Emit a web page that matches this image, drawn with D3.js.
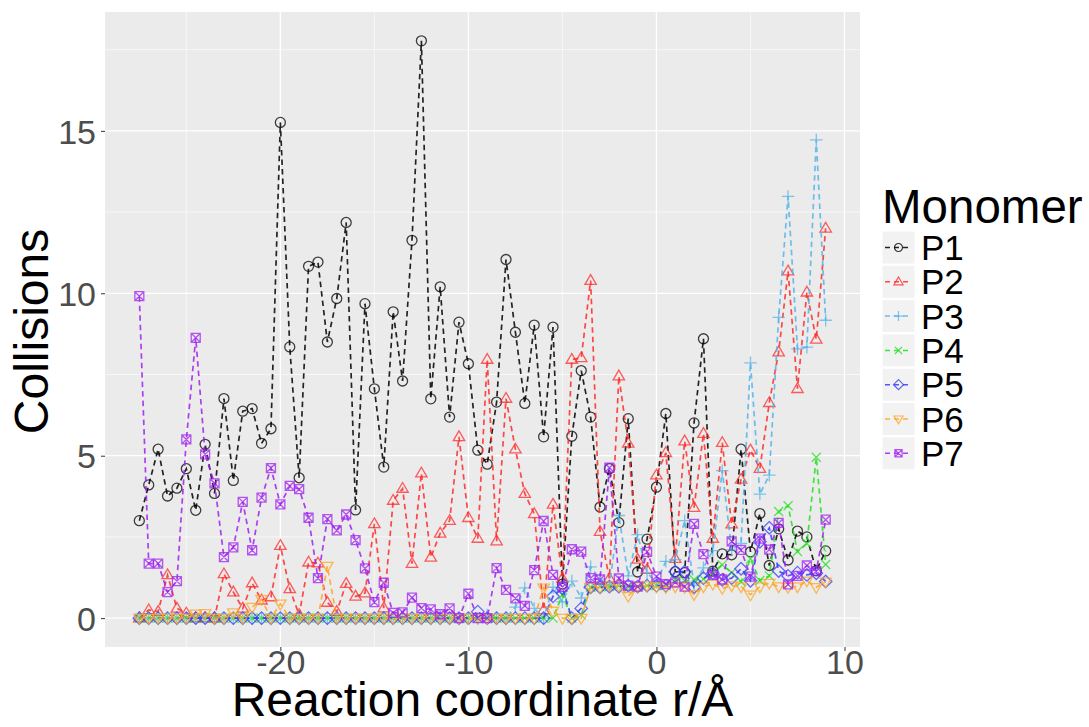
<!DOCTYPE html>
<html>
<head>
<meta charset="utf-8">
<script src="https://cdn.jsdelivr.net/npm/d3@7"></script>
<style>
  body { margin: 0; background: #ffffff; }
  svg { display: block; }
  text { font-family: "Liberation Sans", Arial, Helvetica, sans-serif; }
</style>
</head>
<body>
<svg id="chart" width="1089" height="727"></svg>
<script>
// Reaction coordinate (r / Å) for each sample
const coords = [
  -27.5, -27, -26.5, -26, -25.5, -25, -24.5, -24, -23.5, -23,
  -22.5, -22, -21.5, -21, -20.5, -20, -19.5, -19, -18.5, -18,
  -17.5, -17, -16.5, -16, -15.5, -15, -14.5, -14, -13.5, -13,
  -12.5, -12, -11.5, -11, -10.5, -10, -9.5, -9, -8.5, -8,
  -7.5, -7, -6.5, -6, -5.5, -5, -4.5, -4, -3.5, -3,
  -2.5, -2, -1.5, -1, -0.5, 0, 0.5, 1, 1.5, 2,
  2.5, 3, 3.5, 4, 4.5, 5, 5.5, 6, 6.5, 7,
  7.5, 8, 8.5, 9
];

// Collisions per monomer
const P1 = [
  3.0, 4.1, 5.2, 3.76, 4.0, 4.6, 3.32, 5.35, 3.84, 6.76,
  4.24, 6.37, 6.45, 5.38, 5.83, 15.26, 8.35, 4.32, 10.83, 10.96,
  8.5, 9.84, 12.18, 3.33, 9.68, 7.06, 4.65, 9.43, 7.3, 11.63,
  17.77, 6.75, 10.2, 6.19, 9.11, 7.83, 5.17, 4.74, 6.65, 11.04,
  8.8, 6.61, 9.02, 5.58, 8.96, 1.05, 5.6, 7.62, 6.19, 3.42,
  4.6, 2.94, 6.14, 1.42, 2.43, 4.03, 6.3, 1.43, 1.4, 6.01,
  8.6, 1.45, 1.98, 1.95, 5.2, 2.04, 3.22, 1.62, 2.75, 1.79,
  2.68, 2.5, 1.46, 2.07
];
const P2 = [
  0, 0.25, 0.2, 1.33, 0.3, 0.15, 0, 0, 0, 1.36,
  0.8, 0.3, 1.08, 0.55, 0.65, 2.23, 0.9, 0.1, 1.72, 1.69,
  0.48, 0.2, 1.06, 0.67, 0.77, 2.9, 0.31, 3.62, 3.99, 1.68,
  4.46, 1.87, 2.61, 3.0, 5.58, 3.09, 2.45, 7.96, 2.37, 6.76,
  5.2, 3.83, 3.21, 0.25, 3.5, 1.22, 7.96, 8.01, 10.39, 2.66,
  1.22, 7.45, 5.38, 1.81, 1.49, 4.4, 5.09, 1.83, 5.45, 3.4,
  5.68, 2.45, 5.4, 2.89, 4.27, 5.17, 4.6, 6.63, 8.19, 10.68,
  7.06, 10.03, 8.58, 12.0
];
const P3 = [
  0, 0, 0, 0, 0, 0, 0, 0, 0, 0,
  0, 0, 0, 0, 0, 0, 0, 0, 0, 0,
  0, 0, 0, 0, 0, 0, 0, 0, 0, 0,
  0, 0, 0, 0, 0, 0, 0, 0.1, 0, 0,
  0.34, 0.93, 0.3, 0, 0.95, 0.5, 1.14, 0.62, 1.58, 1.2,
  1.0, 3.16, 1.3, 2.57, 1.4, 1.1, 1.75, 1.8, 3.0, 1.01,
  1.55, 2.08, 4.54, 2.1, 2.3, 7.86, 3.82, 4.4, 9.26, 12.98,
  8.29, 8.34, 14.72, 9.17
];
const P4 = [
  0, 0, 0, 0, 0, 0, 0, 0, 0, 0,
  0, 0, 0, 0, 0, 0, 0, 0, 0, 0,
  0, 0, 0, 0, 0, 0, 0, 0, 0, 0,
  0, 0, 0, 0, 0, 0, 0, 0, 0, 0,
  0, 0, 0, 0, 0, 0.72, 0, 0.1, 0.95, 0.97,
  0.97, 1.0, 0.95, 0.97, 1.0, 1.0, 1.0, 1.18, 1.15, 1.18,
  1.2, 1.4, 1.64, 1.4, 1.12, 1.82, 1.16, 1.3, 3.28, 3.46,
  2.05, 2.3, 4.95, 1.65
];
const P5 = [
  0, 0, 0, 0, 0, 0, 0, 0, 0, 0,
  0, 0, 0, 0, 0, 0, 0, 0, 0, 0,
  0, 0, 0, 0, 0, 0, 0, 0, 0, 0,
  0, 0, 0, 0, 0, 0, 0.2, 0, 0, 0,
  0, 0, 0, 0, 0.67, 0.92, 0, 0.3, 0.95, 0.95,
  0.97, 0.97, 1.0, 0.97, 1.0, 1.0, 1.0, 1.43, 1.43, 0.95,
  1.23, 1.38, 1.18, 1.23, 1.52, 1.15, 2.35, 2.78, 1.45, 1.3,
  1.4, 1.33, 1.38, 1.13
];
const P6 = [
  0, 0, 0, 0, 0, 0, 0.13, 0.15, 0, 0,
  0.17, 0, 0.34, 0.58, 0, 0.44, 0, 0, 0, 0,
  1.6, 0, 0, 0, 0, 0, 0, 0, 0, 0,
  0, 0, 0, 0, 0, 0, 0, 0, 0, 0,
  0, 0, 0, 0.93, 0.22, 0, 0, 0, 0.95, 0.95,
  1.0, 1.0, 0.68, 0.97, 1.0, 0.97, 0.95, 0.97, 0.95, 0.73,
  0.97, 1.05, 0.92, 1.0, 0.97, 0.72, 0.97, 1.08, 0.97, 0.95,
  0.97, 1.15, 0.95, 1.12
];
const P7 = [
  9.91, 1.68, 1.68, 0.8, 1.14, 5.5, 8.63, 5.04, 4.15, 1.88,
  2.18, 3.58, 2.09, 3.71, 4.62, 3.5, 4.07, 3.97, 3.09, 1.23,
  3.05, 2.7, 3.19, 2.4, 1.53, 0.49, 1.09, 0.16, 0.18, 0.63,
  0.31, 0.27, 0.12, 0.3, 0, 0.75, 0, 0, 1.54, 0.87,
  0.61, 0.38, 1.48, 2.99, 1.33, 0.96, 2.12, 2.05, 1.23, 1.19,
  4.63, 1.22, 1.0, 0.97, 2.04, 1.28, 1.05, 1.1, 0.97, 2.9,
  1.97, 1.33, 1.19, 2.36, 2.1, 1.28, 2.45, 2.11, 2.93, 1.04,
  1.3, 1.62, 1.45, 3.03
];

const seriesNames = ["P1", "P2", "P3", "P4", "P5", "P6", "P7"];
const seriesValues = [P1, P2, P3, P4, P5, P6, P7];
const seriesColors = ["#000000", "#ff2a2a", "#56b4e9", "#22e022", "#3a3aff", "#ffa522", "#a020f0"];
const seriesShapes = ["circle", "triangle", "plus", "cross", "diamond", "triangleDown", "squareCross"];

const xTicks = [-20, -10, 0, 10];
const xMinor = [-25, -15, -5, 5];
const yTicks = [0, 5, 10, 15];
const yMinor = [2.5, 7.5, 12.5, 17.5];

const xTitle = "Reaction coordinate r/Å";
const yTitle = "Collisions";
const legendTitle = "Monomer";

// ---- layout ----
const panel = { left: 105, right: 860, top: 12, bottom: 647 };
const svg = d3.select("#chart");

// ggplot-style 5% expansion of the data range
function expand(ext) {
  const pad = (ext[1] - ext[0]) * 0.05;
  return [ext[0] - pad, ext[1] + pad];
}
const allValues = seriesValues.flat();
const x = d3.scaleLinear().domain(expand(d3.extent(coords))).range([panel.left, panel.right]);
const y = d3.scaleLinear().domain(expand(d3.extent(allValues))).range([panel.bottom, panel.top]);

// panel background
svg.append("rect")
  .attr("x", panel.left).attr("y", panel.top)
  .attr("width", panel.right - panel.left).attr("height", panel.bottom - panel.top)
  .attr("fill", "#ebebeb");

// grid lines
const grid = svg.append("g").attr("stroke", "#ffffff").attr("fill", "none");
grid.selectAll("line.xmin").data(xMinor).join("line")
  .attr("x1", d => x(d)).attr("x2", d => x(d)).attr("y1", panel.top).attr("y2", panel.bottom)
  .attr("stroke-width", 0.6);
grid.selectAll("line.ymin").data(yMinor).join("line")
  .attr("y1", d => y(d)).attr("y2", d => y(d)).attr("x1", panel.left).attr("x2", panel.right)
  .attr("stroke-width", 0.6);
grid.selectAll("line.xmaj").data(xTicks).join("line")
  .attr("x1", d => x(d)).attr("x2", d => x(d)).attr("y1", panel.top).attr("y2", panel.bottom)
  .attr("stroke-width", 1.3);
grid.selectAll("line.ymaj").data(yTicks).join("line")
  .attr("y1", d => y(d)).attr("y2", d => y(d)).attr("x1", panel.left).attr("x2", panel.right)
  .attr("stroke-width", 1.3);

// axes (plain hyphen for negative numbers)
const fmt = d => String(d);
const xAxis = d3.axisBottom(x).tickValues(xTicks).tickFormat(fmt).tickSize(4).tickPadding(-1);
const yAxis = d3.axisLeft(y).tickValues(yTicks).tickFormat(fmt).tickSize(4).tickPadding(5);

const gx = svg.append("g").attr("transform", `translate(0,${panel.bottom})`).call(xAxis);
const gy = svg.append("g").attr("transform", `translate(${panel.left},0)`).call(yAxis);
[gx, gy].forEach(g => {
  g.select(".domain").remove();
  g.selectAll(".tick line").attr("stroke", "#333333").attr("stroke-width", 1);
  g.selectAll(".tick text")
    .attr("fill", "#4d4d4d")
    .style("font-family", '"Liberation Sans", Arial, sans-serif')
    .style("font-size", "34px");
});
gy.selectAll(".tick text").attr("dy", "0.36em");
gx.selectAll(".tick text").attr("dy", "0.72em");

// axis titles
svg.append("text")
  .attr("x", (panel.left + panel.right) / 2).attr("y", 716)
  .attr("text-anchor", "middle").attr("fill", "#000")
  .style("font-size", "48px")
  .text(xTitle);
svg.append("text")
  .attr("transform", `translate(48,${(panel.top + panel.bottom) / 2 + 2}) rotate(-90)`)
  .attr("text-anchor", "middle").attr("fill", "#000")
  .style("font-size", "48px")
  .text(yTitle);

// marker shapes
function shapePath(shape, s) {
  const p = d3.path();
  switch (shape) {
    case "circle":
      p.moveTo(s, 0); p.arc(0, 0, s, 0, 2 * Math.PI); break;
    case "triangle": {
      const h = s * 1.2;
      p.moveTo(0, -h); p.lineTo(h * 0.95, h * 0.62); p.lineTo(-h * 0.95, h * 0.62); p.closePath(); break;
    }
    case "triangleDown": {
      const h = s * 1.2;
      p.moveTo(0, h); p.lineTo(h * 0.95, -h * 0.62); p.lineTo(-h * 0.95, -h * 0.62); p.closePath(); break;
    }
    case "plus":
      p.moveTo(-s * 1.25, 0); p.lineTo(s * 1.25, 0); p.moveTo(0, -s * 1.25); p.lineTo(0, s * 1.25); break;
    case "cross": {
      const c = s * 0.9;
      p.moveTo(-c, -c); p.lineTo(c, c); p.moveTo(-c, c); p.lineTo(c, -c); break;
    }
    case "diamond": {
      const d = s * 1.25;
      p.moveTo(0, -d); p.lineTo(d, 0); p.lineTo(0, d); p.lineTo(-d, 0); p.closePath(); break;
    }
    case "squareCross": {
      const q = s * 0.9;
      p.rect(-q, -q, 2 * q, 2 * q);
      p.moveTo(-q, -q); p.lineTo(q, q); p.moveTo(-q, q); p.lineTo(q, -q); break;
    }
  }
  return p.toString();
}

const series = seriesNames.map((name, i) => ({
  name, color: seriesColors[i], shape: seriesShapes[i],
  points: coords.map((c, j) => ({ x: c, y: seriesValues[i][j] }))
}));

const line = d3.line().x(d => x(d.x)).y(d => y(d.y));
const plot = svg.append("g");

series.forEach(s => {
  const g = plot.append("g");
  g.append("path")
    .attr("d", line(s.points))
    .attr("fill", "none")
    .attr("stroke", s.color)
    .attr("stroke-width", 1.7)
    .attr("stroke-dasharray", "5.5,4")
    .attr("stroke-opacity", 0.85);
  g.selectAll("path.pt").data(s.points).join("path")
    .attr("class", "pt")
    .attr("transform", d => `translate(${x(d.x)},${y(d.y)})`)
    .attr("d", shapePath(s.shape, 5))
    .attr("fill", "none")
    .attr("stroke", s.color)
    .attr("stroke-width", 1.3)
    .attr("stroke-opacity", 0.75);
});

// legend
const legend = svg.append("g");
legend.append("text")
  .attr("x", 882).attr("y", 223)
  .attr("fill", "#000").style("font-size", "47.5px")
  .text(legendTitle);
const keyTop = 231, keyStep = 34.3, keySize = 33;
series.forEach((s, i) => {
  const ky = keyTop + i * keyStep;
  const g = legend.append("g").attr("transform", `translate(882,${ky})`);
  g.append("rect").attr("width", keySize).attr("height", keySize)
    .attr("fill", "#f2f2f2").attr("stroke", "#ffffff").attr("stroke-width", 1);
  g.append("line")
    .attr("x1", 3).attr("x2", keySize - 3).attr("y1", keySize / 2).attr("y2", keySize / 2)
    .attr("stroke", s.color).attr("stroke-width", 1.5).attr("stroke-dasharray", "5,4")
    .attr("stroke-opacity", 0.85);
  g.append("path")
    .attr("transform", `translate(${keySize / 2},${keySize / 2})`)
    .attr("d", shapePath(s.shape, 4.0))
    .attr("fill", "none").attr("stroke", s.color).attr("stroke-width", 1.2).attr("stroke-opacity", 0.8);
  g.append("text")
    .attr("x", keySize + 6).attr("y", keySize / 2).attr("dy", "0.36em")
    .attr("fill", "#000").style("font-size", "35px")
    .text(s.name);
});
</script>
</body>
</html>
